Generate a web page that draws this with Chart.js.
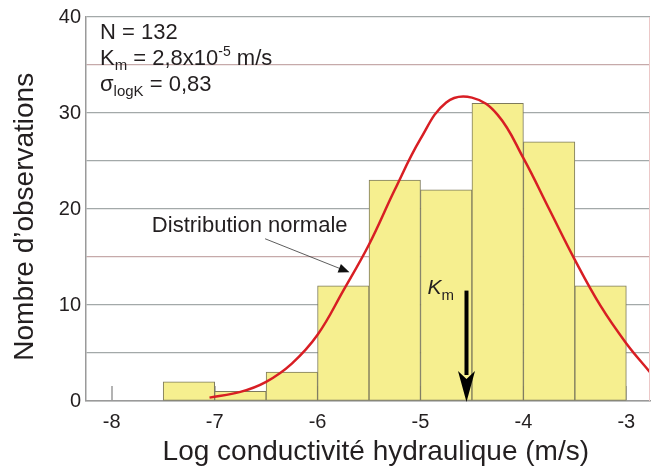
<!DOCTYPE html>
<html>
<head>
<meta charset="utf-8">
<script src="https://cdn.jsdelivr.net/npm/chart.js@4"></script>
<style>
  html, body { margin: 0; padding: 0; background: #fff; }
</style>
</head>
<body>
<canvas id="myChart" width="651" height="469"></canvas>
<script>
// histogram bins (log K, width 0.5)
const binCenters = [-7.25, -6.75, -6.25, -5.75, -5.25, -4.75, -4.25, -3.75, -3.25];
const binCounts = [2, 1, 3, 12, 23, 22, 31, 27, 12];

// normal distribution curve
const curveX = [-7.05, -6.75, -6.5, -6.25, -6.0, -5.75, -5.5, -5.25, -5.0, -4.75, -4.5, -4.25, -4.0, -3.75, -3.5, -3.25, -3.0, -2.77];
const curveY = [0.35, 0.95, 2.0, 3.9, 6.9, 11.5, 16.3, 22.0, 27.3, 31.1, 31.6, 29.8, 25.3, 20.0, 14.7, 9.9, 6.0, 3.0];

const xTicks = [-8, -7, -6, -5, -4, -3];
const yTickLabels = [0, 10, 20, 30, 40];
const kmLog = -4.553;

const FONT = "'Liberation Sans', Arial, Helvetica, sans-serif";
const TEXT = '#231f20';

// draws a row of text pieces (normal / sub / sup)
function drawRuns(ctx, x, y, parts) {
    parts.forEach(p => {
        ctx.font = (p.italic ? 'italic ' : '') + p.size + 'px ' + FONT;
        ctx.fillText(p.t, x, y + (p.dy || 0));
        x += ctx.measureText(p.t).width;
    });
}

const annotations = {
    id: 'annotations',
    beforeDatasetsDraw(chart) {
        const { ctx, scales: { x, y } } = chart;
        ctx.save();
        ctx.strokeStyle = '#9a9a9a';
        ctx.lineWidth = 1.5;
        xTicks.forEach(v => {
            const px = Math.round(x.getPixelForValue(v));
            ctx.beginPath();
            ctx.moveTo(px, y.bottom);
            ctx.lineTo(px, y.bottom - 15);
            ctx.stroke();
        });
        ctx.restore();
    },
    afterDatasetsDraw(chart) {
        const { ctx, chartArea, scales: { x, y } } = chart;
        ctx.save();
        ctx.fillStyle = TEXT;
        ctx.textBaseline = 'alphabetic';

        // stats block
        const lx = chartArea.left + 14;
        drawRuns(ctx, lx, chartArea.top + 22, [{ t: 'N = 132', size: 22 }]);
        drawRuns(ctx, lx, chartArea.top + 48, [
            { t: 'K', size: 22 }, { t: 'm', size: 15, dy: 5 },
            { t: ' = 2,8x10', size: 22 }, { t: '-5', size: 14, dy: -9 },
            { t: ' m/s', size: 22 }
        ]);
        drawRuns(ctx, lx, chartArea.top + 74, [
            { t: 'σ', size: 22 }, { t: 'logK', size: 15, dy: 5 },
            { t: ' = 0,83', size: 22 }
        ]);

        // "Distribution normale" label and pointer
        drawRuns(ctx, x.getPixelForValue(-7.61), y.getPixelForValue(17.65), [{ t: 'Distribution normale', size: 22 }]);
        const ax0 = x.getPixelForValue(-6.51), ay0 = y.getPixelForValue(16.9);
        const ax1 = x.getPixelForValue(-5.69), ay1 = y.getPixelForValue(13.4);
        const ang = Math.atan2(ay1 - ay0, ax1 - ax0);
        ctx.strokeStyle = '#333';
        ctx.lineWidth = 0.8;
        ctx.beginPath();
        ctx.moveTo(ax0, ay0);
        ctx.lineTo(ax1 - 9 * Math.cos(ang), ay1 - 9 * Math.sin(ang));
        ctx.stroke();
        ctx.beginPath();
        ctx.moveTo(ax1, ay1);
        ctx.lineTo(ax1 - 11 * Math.cos(ang) + 4.5 * Math.sin(ang), ay1 - 11 * Math.sin(ang) - 4.5 * Math.cos(ang));
        ctx.lineTo(ax1 - 11 * Math.cos(ang) - 4.5 * Math.sin(ang), ay1 - 11 * Math.sin(ang) + 4.5 * Math.cos(ang));
        ctx.closePath();
        ctx.fillStyle = '#111';
        ctx.fill();

        // Km arrow
        const kx = x.getPixelForValue(kmLog);
        const top = y.getPixelForValue(11.5);
        const tip = y.getPixelForValue(0);
        ctx.fillStyle = '#000';
        ctx.fillRect(kx - 2, top, 4, tip - top - 26);
        ctx.beginPath();
        ctx.moveTo(kx, tip + 1);
        ctx.lineTo(kx - 8.5, tip - 30);
        ctx.lineTo(kx, tip - 22);
        ctx.lineTo(kx + 8.5, tip - 30);
        ctx.closePath();
        ctx.fill();
        ctx.fillStyle = TEXT;
        drawRuns(ctx, kx - 39, top + 3, [{ t: 'K', size: 21, italic: true }, { t: 'm', size: 15, dy: 6 }]);

        // faint right frame
        ctx.strokeStyle = '#ecc8c8';
        ctx.lineWidth = 1;
        ctx.beginPath();
        ctx.moveTo(chartArea.right - 0.5, chartArea.top);
        ctx.lineTo(chartArea.right - 0.5, chartArea.bottom);
        ctx.stroke();
        ctx.restore();
    }
};

const config = {
    type: 'bar',
    data: {
        datasets: [
            {
                type: 'line',
                data: curveX.map((v, i) => ({ x: v, y: curveY[i] })),
                borderColor: '#d81e24',
                borderWidth: 2.5,
                pointRadius: 0,
                tension: 0.4,
                order: 0
            },
            {
                type: 'bar',
                data: binCenters.map((v, i) => ({ x: v, y: binCounts[i] })),
                backgroundColor: '#f6ef8f',
                borderColor: '#7d7a5c',
                borderWidth: 1,
                borderSkipped: false,
                barPercentage: 1,
                categoryPercentage: 1,
                order: 1
            }
        ]
    },
    options: {
        responsive: false,
        animation: false,
        layout: { padding: { top: 16, right: 1, left: 0, bottom: 0 } },
        plugins: { legend: { display: false }, tooltip: { enabled: false } },
        scales: {
            x: {
                type: 'linear',
                offset: false,
                min: -8.25,
                max: -2.77,
                afterBuildTicks: s => { s.ticks = xTicks.map(v => ({ value: v })); },
                afterFit: s => { s.height = 68; },
                grid: { drawOnChartArea: false, drawTicks: false },
                border: { display: true, color: '#9a9a9a', width: 1.5 },
                ticks: { color: TEXT, font: { family: FONT, size: 20 }, padding: 9 },
                title: {
                    display: true,
                    text: '\u00a0\u00a0Log conductivité hydraulique (m/s)',
                    color: TEXT,
                    font: { family: FONT, size: 28 },
                    padding: { top: 0, bottom: 0 }
                }
            },
            y: {
                min: 0,
                max: 40,
                afterFit: s => { s.width = 86; },
                ticks: {
                    stepSize: 5,
                    color: TEXT,
                    font: { family: FONT, size: 20 },
                    padding: 5,
                    callback: v => yTickLabels.includes(v) ? v : ''
                },
                grid: {
                    drawTicks: false,
                    lineWidth: 1.3,
                    color: c => (c.tick.value === 35 || c.tick.value === 15) ? '#c6aaaa' : '#a3a9a9'
                },
                border: { display: true, color: '#9a9a9a', width: 1.5 },
                title: {
                    display: true,
                    text: 'Nombre d\u2019observations\u00a0\u00a0',
                    color: TEXT,
                    font: { family: FONT, size: 28 },
                    padding: { top: 8, bottom: 0 }
                }
            }
        }
    },
    plugins: [annotations]
};

const myChart = new Chart(document.getElementById('myChart'), config);
</script>
</body>
</html>
